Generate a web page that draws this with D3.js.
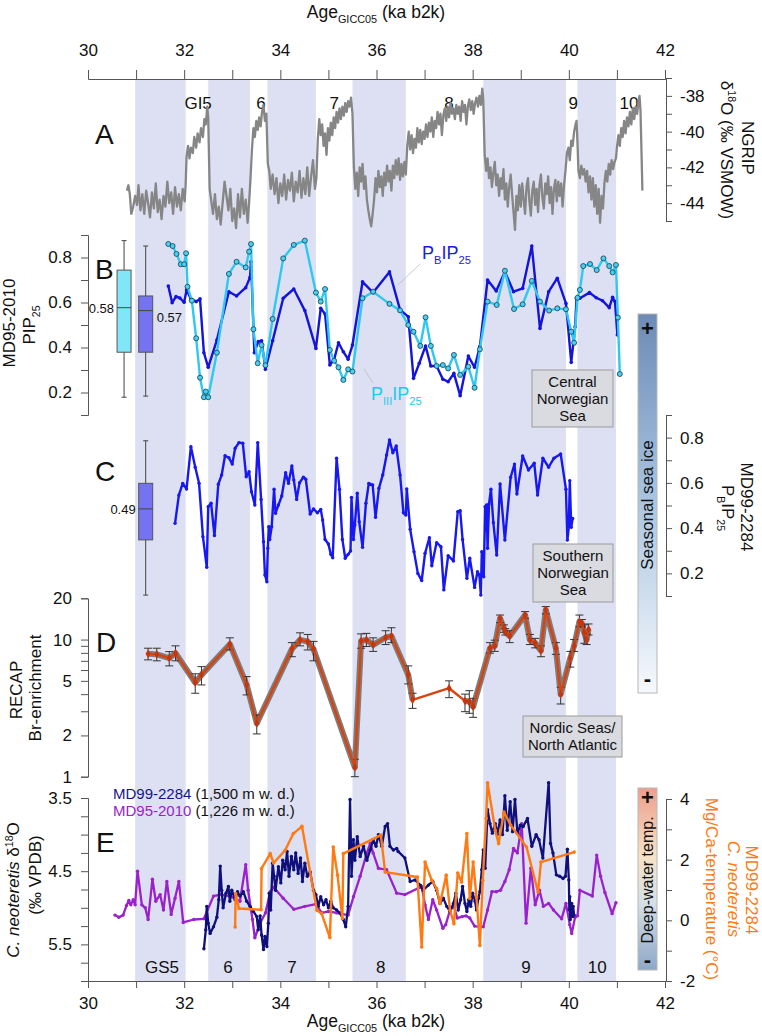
<!DOCTYPE html>
<html><head><meta charset="utf-8">
<script src="https://cdn.jsdelivr.net/npm/d3@7"></script>
<style>body{margin:0;background:#fff} svg text{font-family:"Liberation Sans",Arial,sans-serif;fill:#111}</style>
</head><body><svg id="c" width="762" height="1036"></svg>
<script>
// ---------------- DATA ----------------
const bands = [[30.98,32.03],[32.50,33.37],[33.73,34.74],[35.50,36.61],[38.22,39.94],[40.18,40.98]];
const topLabels = [[32.29,"GI5"],[33.60,"6"],[35.12,"7"],[37.51,"8"],[40.09,"9"],[41.25,"10"]];
const bottomLabels = [[31.54,"GS5"],[32.91,"6"],[34.24,"7"],[36.09,"8"],[39.11,"9"],[40.59,"10"]];
const xTicks = [30,31,32,33,34,35,36,37,38,39,40,41,42];
const xLabels = [30,32,34,36,38,40,42];

const ngrip = [[30.81,-43.3],[30.84,-43.0],[30.87,-43.5],[30.90,-44.6],[30.94,-44.2],[30.98,-43.6],[31.02,-44.1],[31.05,-43.0],[31.09,-44.4],[31.13,-43.5],[31.17,-44.6],[31.21,-43.3],[31.25,-44.0],[31.29,-44.8],[31.33,-43.4],[31.37,-44.3],[31.41,-42.9],[31.45,-44.5],[31.49,-43.8],[31.53,-44.9],[31.57,-43.6],[31.61,-44.2],[31.65,-42.8],[31.69,-44.0],[31.73,-43.4],[31.77,-44.6],[31.81,-43.1],[31.85,-44.2],[31.89,-43.5],[31.93,-44.4],[31.97,-43.2],[32.01,-43.9],[32.03,-43.0],
[32.05,-41.4],[32.08,-40.8],[32.11,-41.5],[32.14,-40.9],[32.18,-41.2],[32.21,-40.3],[32.25,-40.9],[32.28,-40.1],[32.32,-40.6],[32.35,-39.8],[32.39,-40.3],[32.42,-39.3],[32.45,-39.6],[32.48,-38.6],[32.50,-39.2],
[32.53,-43.2],[32.56,-43.8],[32.60,-44.6],[32.64,-43.5],[32.68,-44.9],[32.72,-44.2],[32.76,-45.2],[32.80,-44.0],[32.84,-42.8],[32.88,-43.6],[32.92,-44.4],[32.96,-43.2],[33.00,-45.0],[33.04,-44.3],[33.08,-45.4],[33.12,-43.5],[33.16,-44.8],[33.20,-43.2],[33.24,-44.6],[33.28,-43.8],[33.32,-45.1],[33.35,-44.0],
[33.38,-42.6],[33.41,-41.0],[33.44,-39.8],[33.47,-40.3],[33.50,-39.4],[33.53,-39.9],[33.56,-39.2],[33.59,-39.7],[33.62,-38.9],[33.65,-38.5],[33.68,-39.4],[33.71,-39.0],[33.74,-41.8],
[33.77,-42.2],[33.80,-43.2],[33.84,-42.4],[33.88,-43.5],[33.92,-42.6],[33.96,-44.0],[34.00,-42.9],[34.04,-43.6],[34.08,-42.4],[34.12,-43.8],[34.16,-42.7],[34.20,-43.3],[34.24,-42.3],[34.28,-43.9],[34.32,-42.8],[34.36,-43.4],[34.40,-42.2],[34.44,-43.7],[34.48,-42.6],[34.52,-43.5],[34.56,-42.0],[34.60,-43.6],[34.64,-42.5],[34.68,-41.6],[34.72,-43.2],[34.75,-42.6],
[34.78,-40.4],[34.81,-39.3],[34.84,-40.2],[34.87,-39.6],[34.90,-40.8],[34.93,-40.1],[34.96,-41.3],[34.99,-39.8],[35.02,-40.5],[35.05,-39.5],[35.08,-40.2],[35.11,-39.2],[35.14,-39.8],[35.17,-38.9],[35.20,-39.5],[35.23,-38.7],[35.26,-39.3],[35.29,-38.6],[35.32,-39.1],[35.35,-38.4],[35.38,-38.9],[35.41,-38.3],[35.44,-38.6],[35.47,-38.1],[35.50,-39.0],
[35.53,-42.0],[35.56,-43.2],[35.59,-42.3],[35.62,-43.6],[35.65,-42.0],[35.68,-42.8],[35.71,-41.8],[35.74,-43.2],[35.77,-42.5],[35.80,-43.8],[35.83,-44.4],[35.86,-44.9],[35.89,-45.3],[35.92,-44.6],[35.95,-43.8],[35.98,-42.6],[36.01,-43.4],[36.04,-42.2],[36.07,-43.1],[36.10,-42.5],[36.13,-43.6],[36.16,-42.3],[36.19,-43.0],[36.22,-41.9],[36.25,-42.8],[36.28,-42.2],[36.31,-43.3],[36.34,-41.9],[36.37,-42.6],[36.40,-41.6],[36.43,-42.4],[36.46,-41.5],[36.49,-42.7],[36.52,-41.8],[36.55,-42.5],[36.58,-41.7],[36.61,-42.4],
[36.64,-40.8],[36.67,-40.0],[36.70,-41.0],[36.73,-40.2],[36.76,-41.2],[36.79,-40.4],[36.82,-40.9],[36.85,-39.8],[36.88,-40.6],[36.91,-39.9],[36.94,-40.7],[36.97,-40.0],[37.00,-40.4],[37.03,-39.6],[37.06,-40.3],[37.09,-39.5],[37.12,-40.0],[37.15,-39.2],[37.18,-40.3],[37.21,-39.4],[37.24,-39.8],[37.27,-38.9],[37.30,-39.6],[37.33,-39.0],[37.36,-40.2],[37.39,-39.1],[37.42,-38.7],[37.45,-39.4],[37.48,-38.6],[37.51,-39.2],[37.54,-38.4],[37.57,-39.0],[37.60,-38.7],[37.63,-39.3],[37.66,-38.5],[37.69,-39.0],[37.72,-38.6],[37.75,-39.4],[37.78,-38.3],[37.81,-38.9],[37.84,-38.5],[37.87,-39.6],[37.90,-38.6],[37.93,-38.2],[37.96,-38.8],[37.99,-38.3],[38.02,-39.0],[38.05,-38.4],[38.08,-38.1],[38.11,-38.6],[38.14,-38.0],[38.17,-38.5],[38.20,-37.6],[38.22,-38.2],
[38.25,-41.3],[38.28,-42.2],[38.31,-41.5],[38.34,-42.6],[38.37,-42.0],[38.40,-43.1],[38.43,-42.3],[38.46,-41.7],[38.49,-43.0],[38.52,-42.4],[38.55,-43.6],[38.58,-42.6],[38.61,-43.2],[38.64,-42.1],[38.67,-43.8],[38.70,-42.9],[38.73,-44.2],[38.76,-43.1],[38.79,-42.4],[38.82,-43.5],[38.85,-44.5],[38.88,-45.5],[38.91,-43.6],[38.94,-44.4],[38.97,-43.0],[39.00,-44.2],[39.03,-42.9],[39.06,-43.8],[39.09,-44.6],[39.12,-43.1],[39.15,-42.6],[39.18,-43.9],[39.21,-44.7],[39.24,-43.3],[39.27,-42.8],[39.30,-44.1],[39.33,-43.2],[39.36,-44.5],[39.39,-43.0],[39.42,-42.4],[39.45,-43.7],[39.48,-44.3],[39.51,-42.9],[39.54,-43.5],[39.57,-42.5],[39.60,-44.0],[39.63,-43.1],[39.66,-44.6],[39.69,-43.2],[39.72,-42.7],[39.75,-43.9],[39.78,-42.8],[39.81,-43.6],[39.84,-42.9],[39.87,-44.2],[39.90,-43.0],[39.93,-42.2],
[39.96,-41.2],[39.99,-40.9],[40.02,-41.6],[40.05,-40.5],[40.08,-40.8],[40.11,-40.0],[40.14,-39.6],[40.16,-39.4],[40.18,-40.6],
[40.20,-42.2],[40.23,-42.6],[40.26,-41.9],[40.29,-42.4],[40.32,-42.1],[40.35,-42.8],[40.38,-42.2],[40.41,-43.4],[40.44,-42.5],[40.47,-43.8],[40.50,-42.6],[40.53,-44.2],[40.56,-43.0],[40.59,-44.6],[40.62,-43.2],[40.65,-45.1],[40.68,-43.6],[40.71,-44.3],[40.74,-42.9],[40.77,-42.2],[40.80,-42.8],[40.83,-41.8],[40.86,-42.4],[40.89,-41.6],[40.92,-42.1],[40.95,-41.7],[40.98,-41.5],
[41.00,-40.9],[41.03,-40.2],[41.06,-40.8],[41.09,-39.8],[41.12,-40.3],[41.15,-39.4],[41.18,-40.1],[41.21,-39.2],[41.24,-39.7],[41.27,-38.9],[41.30,-39.6],[41.33,-38.7],[41.36,-39.3],[41.39,-38.6],[41.42,-39.0],[41.45,-38.3],[41.47,-38.0],[41.49,-38.8],[41.51,-41.0],[41.53,-43.3]];

const pbip25B = [[31.67,0.673],[31.75,0.599],[31.83,0.626],[31.91,0.62],[32.00,0.601],[32.05,0.656],[32.14,0.616],[32.25,0.604],[32.33,0.616],[32.41,0.377],[32.50,0.312],[32.68,0.433],[32.93,0.648],[33.09,0.629],[33.28,0.666],[33.37,0.712],[33.39,0.781],[33.46,0.377],[33.54,0.426],[33.61,0.43],[33.69,0.303],[33.84,0.43],[34.06,0.619],[34.28,0.66],[34.51,0.564],[34.74,0.396],[34.84,0.574],[34.93,0.549],[35.03,0.322],[35.12,0.348],[35.21,0.421],[35.31,0.381],[35.41,0.348],[35.50,0.411],[35.71,0.692],[35.93,0.644],[36.27,0.736],[36.49,0.567],[36.66,0.537],[36.77,0.263],[36.89,0.33],[37.02,0.407],[37.13,0.318],[37.25,0.318],[37.38,0.259],[37.49,0.248],[37.61,0.285],[37.74,0.186],[37.91,0.362],[38.04,0.312],[38.15,0.404],[38.31,0.70],[38.49,0.651],[38.67,0.737],[38.85,0.648],[39.04,0.663],[39.23,0.851],[39.40,0.485],[39.58,0.648],[39.76,0.708],[39.94,0.596],[40.05,0.334],[40.13,0.492],[40.16,0.619],[40.23,0.619],[40.43,0.644],[40.57,0.621],[40.70,0.608],[40.84,0.577],[40.91,0.623],[40.96,0.604],[41.01,0.456]];

const piiiip25B = [[31.67,0.86],[31.76,0.851],[31.84,0.816],[31.93,0.77],[32.00,0.77],[32.04,0.819],[32.07,0.67],[32.16,0.608],[32.25,0.441],[32.33,0.266],[32.41,0.179],[32.45,0.204],[32.50,0.179],[32.68,0.377],[32.93,0.727],[33.09,0.781],[33.28,0.756],[33.35,0.826],[33.39,0.86],[33.44,0.481],[33.53,0.33],[33.61,0.411],[33.69,0.321],[33.84,0.527],[34.06,0.796],[34.28,0.856],[34.51,0.875],[34.74,0.644],[34.84,0.604],[34.93,0.66],[35.03,0.389],[35.12,0.341],[35.21,0.312],[35.31,0.256],[35.41,0.303],[35.50,0.293],[35.71,0.619],[35.93,0.648],[36.27,0.594],[36.49,0.565],[36.66,0.50],[36.77,0.47],[36.91,0.407],[37.02,0.534],[37.13,0.407],[37.25,0.318],[37.38,0.322],[37.49,0.307],[37.61,0.367],[37.74,0.278],[37.91,0.315],[38.04,0.221],[38.15,0.392],[38.31,0.604],[38.50,0.589],[38.67,0.741],[38.86,0.571],[39.04,0.592],[39.23,0.696],[39.40,0.604],[39.59,0.564],[39.76,0.574],[39.94,0.57],[40.05,0.47],[40.11,0.421],[40.18,0.621],[40.23,0.656],[40.30,0.762],[40.44,0.771],[40.58,0.744],[40.72,0.796],[40.84,0.762],[40.91,0.734],[40.98,0.767],[41.02,0.533],[41.06,0.282]];

const pbip25C = [[31.81,0.421],[31.89,0.546],[31.97,0.598],[32.05,0.573],[32.14,0.76],[32.23,0.669],[32.31,0.598],[32.39,0.362],[32.47,0.227],[32.50,0.495],[32.56,0.51],[32.63,0.367],[32.71,0.594],[32.78,0.635],[32.85,0.72],[32.93,0.711],[33.00,0.683],[33.06,0.753],[33.14,0.778],[33.22,0.775],[33.29,0.627],[33.35,0.649],[33.40,0.561],[33.47,0.502],[33.53,0.778],[33.60,0.527],[33.65,0.34],[33.68,0.193],[33.72,0.163],[33.74,0.311],[33.76,0.406],[33.78,0.35],[33.82,0.406],[33.87,0.572],[33.90,0.466],[33.96,0.502],[34.03,0.542],[34.11,0.645],[34.17,0.598],[34.24,0.675],[34.28,0.613],[34.34,0.527],[34.40,0.601],[34.48,0.625],[34.53,0.616],[34.62,0.462],[34.69,0.485],[34.77,0.468],[34.84,0.483],[34.88,0.436],[34.93,0.35],[35.00,0.33],[35.05,0.284],[35.09,0.269],[35.17,0.709],[35.23,0.572],[35.29,0.35],[35.35,0.267],[35.41,0.284],[35.46,0.299],[35.48,0.536],[35.52,0.35],[35.55,0.414],[35.60,0.554],[35.64,0.428],[35.71,0.315],[35.78,0.51],[35.84,0.598],[35.92,0.591],[35.98,0.448],[36.05,0.576],[36.13,0.635],[36.21,0.723],[36.27,0.79],[36.34,0.733],[36.41,0.763],[36.49,0.635],[36.56,0.468],[36.61,0.458],[36.63,0.573],[36.70,0.395],[36.78,0.296],[36.86,0.20],[36.94,0.168],[37.01,0.289],[37.10,0.358],[37.15,0.234],[37.25,0.336],[37.34,0.318],[37.40,0.127],[37.49,0.278],[37.60,0.255],[37.69,0.473],[37.74,0.477],[37.79,0.35],[37.88,0.178],[37.94,0.267],[38.04,0.138],[38.10,0.207],[38.14,0.193],[38.17,0.104],[38.19,0.296],[38.23,0.185],[38.26,0.495],[38.28,0.392],[38.29,0.502],[38.31,0.311],[38.34,0.507],[38.38,0.572],[38.43,0.424],[38.50,0.281],[38.57,0.595],[38.67,0.347],[38.79,0.625],[38.87,0.683],[38.92,0.551],[39.04,0.719],[39.16,0.657],[39.28,0.687],[39.35,0.546],[39.46,0.709],[39.58,0.669],[39.69,0.709],[39.83,0.728],[39.94,0.572],[39.97,0.347],[40.00,0.406],[40.02,0.61],[40.05,0.404],[40.08,0.443]];

// boxplots: [ageCenter, min, q1, median, q3, max]
const boxB = [[30.75,0.179,0.379,0.577,0.744,0.875],[31.20,0.184,0.379,0.564,0.629,0.851]];
const boxBLabels = ["0.58","0.57"];
const boxC = [[31.20,0.104,0.348,0.485,0.598,0.786]];
const boxCLabels = ["0.49"];

// RECAP: [age, value, low, high]
const recap = [[31.25,7.87,7.11,8.65],[31.43,7.8,7.0,8.65],[31.69,7.33,6.43,8.17],[31.82,7.95,7.0,9.0],[32.23,4.86,4.06,5.63],[32.36,5.53,4.67,6.35],[32.95,9.25,8.4,10.3],[33.30,4.67,3.95,5.37],[33.51,2.45,2.05,2.82],[34.24,8.52,7.5,9.5],[34.41,9.96,9.0,11.2],[34.57,9.67,8.4,10.9],[34.69,8.52,7.0,9.7],[35.55,1.17,1.0,1.34],[35.68,9.78,8.65,11.0],[35.79,9.96,8.9,11.1],[35.93,9.14,8.2,10.3],[36.19,10.35,9.2,11.6],[36.31,10.6,9.5,12.2],[36.66,5.53,4.75,6.43],[36.75,3.63,3.15,4.06],[37.51,4.42,3.77,5.0],[37.84,3.57,2.98,4.0],[37.93,3.53,2.9,4.24],[38.01,3.24,2.71,3.73],[38.36,8.66,7.96,9.5],[38.46,9.0,8.2,9.9],[38.57,14.3,13.3,15.1],[38.65,12.1,11.3,12.8],[38.68,11.4,10.8,12.0],[38.77,10.6,9.5,11.6],[39.09,15.1,14.3,16.0],[39.19,9.96,9.2,10.9],[39.30,9.43,8.7,10.2],[39.42,8.3,7.5,9.0],[39.52,16.5,15.4,17.4],[39.73,8.66,7.8,9.5],[39.83,3.99,3.39,4.49],[40.03,7.33,6.3,8.2],[40.11,9.0,8.2,10.0],[40.22,13.5,12.4,15.1],[40.27,13.15,12.4,14.0],[40.32,11.3,9.4,12.8],[40.37,9.96,9.2,11.0],[40.41,11.9,10.8,13.0]];
const recapNoHalo = [36.75,37.84]; // age span drawn without grey halo

const d18O_2284 = [[32.41,5.56],[32.45,5.30],[32.47,4.98],[32.50,5.21],[32.54,5.35],[32.61,5.26],[32.68,5.13],[32.72,4.89],[32.75,4.43],[32.78,4.76],[32.81,5.00],[32.87,4.80],[32.92,4.71],[32.95,4.91],[32.99,4.76],[33.06,4.89],[33.11,4.78],[33.16,4.84],[33.23,4.78],[33.30,4.91],[33.37,4.98],[33.44,5.05],[33.51,5.12],[33.54,5.30],[33.58,5.11],[33.61,5.37],[33.65,5.57],[33.68,5.39],[33.72,5.53],[33.75,5.21],[33.77,4.80],[33.80,5.03],[33.84,4.39],[33.87,4.57],[33.90,4.76],[33.96,4.44],[34.01,4.66],[34.05,4.35],[34.10,4.48],[34.14,4.23],[34.18,4.57],[34.23,4.30],[34.28,4.48],[34.32,4.25],[34.37,4.53],[34.42,4.32],[34.46,4.64],[34.51,4.39],[34.56,4.57],[34.62,4.51],[34.69,4.76],[34.74,4.82],[34.79,4.98],[34.84,4.85],[34.90,4.96],[34.95,4.89],[35.00,5.00],[35.05,4.91],[35.10,5.00],[35.17,5.03],[35.24,5.07],[35.31,5.16],[35.36,5.26],[35.41,4.98],[35.45,3.52],[35.48,4.57],[35.52,4.07],[35.55,4.35],[35.60,4.03],[35.66,4.30],[35.73,4.16],[35.80,4.35],[35.87,4.21],[35.93,4.07],[35.99,4.16],[36.04,4.00],[36.11,4.16],[36.18,3.89],[36.23,3.85],[36.28,4.16],[36.35,4.21],[36.42,4.19],[36.45,4.23],[36.59,4.32],[36.70,4.64],[36.80,4.62],[36.91,4.69],[36.97,4.76],[37.08,4.69],[37.17,4.64],[37.25,4.76],[37.32,4.94],[37.39,4.87],[37.46,4.98],[37.53,5.05],[37.60,4.94],[37.65,4.80],[37.70,5.03],[37.75,4.89],[37.79,4.71],[37.84,4.94],[37.88,5.05],[37.92,4.89],[37.96,4.98],[38.00,4.80],[38.05,4.91],[38.08,5.03],[38.12,4.87],[38.15,4.78],[38.19,4.48],[38.22,4.21],[38.26,4.46],[38.31,3.66],[38.36,3.85],[38.41,3.98],[38.47,3.85],[38.51,4.00],[38.57,3.80],[38.62,4.00],[38.67,3.47],[38.72,3.94],[38.78,3.55],[38.83,3.96],[38.88,3.52],[38.93,3.98],[38.99,3.87],[39.05,3.89],[39.14,3.78],[39.23,4.16],[39.32,4.00],[39.38,4.07],[39.46,4.32],[39.58,3.29],[39.62,4.12],[39.67,4.25],[39.74,4.55],[39.81,4.57],[39.88,4.60],[39.93,4.57],[39.97,4.20],[40.00,4.62],[40.01,5.03],[40.02,4.85],[40.03,5.16],[40.06,4.94],[40.08,5.12],[40.09,4.98],[40.11,5.10]];

const d18O_2010 = [[30.56,5.10],[30.64,5.13],[30.73,5.10],[30.80,4.97],[30.85,4.90],[30.89,4.96],[30.94,4.89],[30.98,4.96],[31.03,4.50],[31.12,4.96],[31.19,5.00],[31.25,5.16],[31.34,4.61],[31.41,4.91],[31.50,4.82],[31.57,5.03],[31.64,4.64],[31.73,5.09],[31.81,4.87],[31.89,4.64],[31.98,5.20],[32.20,5.16],[32.41,5.15],[32.61,4.84],[32.75,4.82],[32.95,4.84],[33.16,4.91],[33.28,4.41],[33.33,4.76],[33.42,5.16],[33.47,5.41],[33.58,5.21],[33.69,5.07],[33.79,4.78],[33.86,4.72],[34.06,4.87],[34.28,5.02],[34.51,4.98],[34.74,4.95],[34.86,5.07],[35.00,5.05],[35.17,5.07],[35.41,5.10],[35.52,4.85],[35.66,4.57],[35.80,4.25],[35.87,4.12],[35.93,4.25],[36.04,4.46],[36.21,4.48],[36.42,4.80],[36.59,4.82],[36.94,4.71],[37.01,4.96],[37.08,5.16],[37.17,4.89],[37.25,5.03],[37.38,5.28],[37.44,5.23],[37.53,5.03],[37.61,4.98],[37.68,5.14],[37.78,5.12],[37.86,5.11],[37.94,5.14],[38.04,5.25],[38.14,5.26],[38.22,5.26],[38.31,5.03],[38.40,4.78],[38.49,4.78],[38.58,4.76],[38.67,4.64],[38.76,4.48],[38.85,4.19],[38.93,4.25],[39.02,3.85],[39.11,5.21],[39.21,4.46],[39.30,4.96],[39.39,4.76],[39.47,4.98],[39.58,4.94],[39.68,5.03],[39.85,5.15],[39.94,4.94],[40.02,5.23],[40.06,5.35],[40.13,5.13],[40.18,5.11],[40.23,4.76],[40.49,4.84],[40.58,4.28],[40.66,4.57],[40.75,4.79],[40.90,5.08],[40.98,4.93]];

const mgca_2284 = [[33.06,-0.22],[33.07,0.88],[33.14,0.39],[33.60,0.35],[33.61,1.71],[33.79,2.20],[33.86,1.89],[34.10,2.31],[34.27,2.86],[34.45,3.10],[34.76,0.33],[34.86,0.22],[35.03,-0.57],[35.10,2.42],[35.19,1.49],[35.29,0.06],[35.31,2.20],[36.09,2.81],[36.18,1.59],[36.85,1.43],[36.94,-0.88],[37.01,1.92],[37.15,1.32],[37.25,1.05],[37.32,0.55],[37.45,1.49],[37.53,0.33],[37.61,-0.11],[37.69,1.56],[37.77,1.26],[37.88,2.86],[37.94,0.72],[38.01,1.92],[38.08,0.77],[38.15,-0.83],[38.21,1.32],[38.28,3.36],[38.31,4.53],[38.47,2.97],[38.54,2.53],[38.65,3.57],[38.79,3.14],[39.12,2.42],[39.36,0.93],[39.42,1.92],[40.11,2.25]];

// ---------------- SCALES ----------------
const svg = d3.select("#c");
const x = d3.scaleLinear([30,42],[88,665]);
const yA = d3.scaleLinear([-45,-37],[221,78]);
const yB = d3.scaleLinear([0.1,0.9],[415,235]);
const yC = d3.scaleLinear([0.1,0.9],[596,415]);
const yD = d3.scaleLog([1,20],[776.7,598.3]);
const yE = d3.scaleLinear([3.5,6.0],[798,981]);
const yE2 = d3.scaleLinear([-2,4],[981,799]);
const FONT = '"Liberation Sans",Arial,sans-serif';

// helpers
function rich(t, parts, fs){
  let shift = 0;
  parts.forEach(p=>{
    const [s,k,col] = p;
    const ts = t.append("tspan").text(s);
    let target = 0;
    if(k==="sub"){target = fs*0.3; ts.attr("font-size",fs*0.62);}
    else if(k==="sup"){target = -fs*0.38; ts.attr("font-size",fs*0.62);}
    if(k==="i") ts.attr("font-style","italic");
    const dy = target-shift; if(dy) ts.attr("dy",dy); shift = target;
    if(col) ts.style("fill",col);
  });
  return t;
}
function vtext(cx, cy, ang, parts, fs, col){
  const t = svg.append("text").attr("transform",`translate(${cx},${cy}) rotate(${ang})`)
    .attr("text-anchor","middle").attr("y",fs*0.35).attr("font-size",fs);
  if(col) t.style("fill",col);
  return rich(t, parts, fs);
}
function htext(px, py, parts, fs, anchor, col){
  const t = svg.append("text").attr("x",px).attr("y",py).attr("font-size",fs).attr("text-anchor",anchor||"start");
  if(col) t.style("fill",col);
  return rich(t, parts, fs);
}
const isIn = (arr,d)=>arr.some(v=>Math.abs(v-d)<1e-9);
function drawAxis(gen, pos, horiz, ticks, labels, size, pad){
  gen.tickValues(ticks).tickFormat(d=>isIn(labels,d)?String(d):"").tickSizeOuter(0).tickSize(size).tickPadding(pad);
  const g = svg.append("g").attr("transform", horiz?`translate(0,${pos})`:`translate(${pos},0)`).call(gen);
  g.attr("font-size",17).attr("font-family",FONT);
  g.select(".domain").attr("stroke","#555");
  g.selectAll(".tick line").attr("stroke","#555");
  g.selectAll(".tick text").style("fill","#111");
  return g;
}

// ---------------- BACKGROUND BANDS ----------------
svg.append("g").selectAll("rect").data(bands).join("rect")
  .attr("x",d=>x(d[0])).attr("width",d=>x(d[1])-x(d[0]))
  .attr("y",80).attr("height",901).attr("fill","#dde0f2");

svg.append("g").selectAll("text").data(topLabels).join("text")
  .attr("x",d=>x(d[0])).attr("y",109).attr("text-anchor","middle").attr("font-size",17).text(d=>d[1]);
svg.append("g").selectAll("text").data(bottomLabels).join("text")
  .attr("x",d=>x(d[0])).attr("y",973).attr("text-anchor","middle").attr("font-size",17).text(d=>d[1]);

// ---------------- X AXES ----------------
drawAxis(d3.axisTop(x), 79, true, xTicks, xLabels, 9, 14);
drawAxis(d3.axisBottom(x), 981, true, xTicks, xLabels, 7, 9);
htext(376, 18, [["Age"],["GICC05","sub"],[" (ka b2k)"]], 17.5, "middle");
htext(376, 1027, [["Age"],["GICC05","sub"],[" (ka b2k)"]], 17.5, "middle");

// ---------------- PANEL A ----------------
drawAxis(d3.axisRight(yA), 666, false, d3.range(-45,-36,1), [-44,-42,-40,-38], 6, 8);
svg.append("path").datum(ngrip).attr("fill","none").attr("stroke","#868686").attr("stroke-width",2.3)
  .attr("stroke-linejoin","round").attr("d", d3.line().x(d=>x(d[0])).y(d=>yA(d[1])));
vtext(748, 148, 90, [["NGRIP"]], 17);
vtext(727, 150, 90, [["δ"],["18","sup"],["O (‰ VSMOW)"]], 17);
htext(95, 144, [["A"]], 28);

// ---------------- PANEL B ----------------
drawAxis(d3.axisLeft(yB), 88, false, d3.range(1,10).map(i=>i/10), [0.2,0.4,0.6,0.8], 7, 9);
vtext(9, 323, -90, [["MD95-2010"]], 17);
vtext(29, 325, -90, [["PIP"],["25","sub"]], 17);
htext(95, 279, [["B"]], 28);

function drawBoxes(data, yS, fills){
  const bw = 14;
  data.forEach((b,i)=>{
    const cx = x(b[0]);
    const g = svg.append("g");
    g.append("line").attr("x1",cx).attr("x2",cx).attr("y1",yS(b[1])).attr("y2",yS(b[5])).attr("stroke","#444");
    [b[1],b[5]].forEach(v=>g.append("line").attr("x1",cx-2.5).attr("x2",cx+2.5).attr("y1",yS(v)).attr("y2",yS(v)).attr("stroke","#444"));
    g.append("rect").attr("x",cx-bw/2).attr("width",bw).attr("y",yS(b[4])).attr("height",yS(b[2])-yS(b[4]))
      .attr("fill",fills[i]).attr("stroke","#555");
    g.append("line").attr("x1",cx-bw/2).attr("x2",cx+bw/2).attr("y1",yS(b[3])).attr("y2",yS(b[3])).attr("stroke","#444");
  });
}
drawBoxes(boxB, yB, ["#80e6f8","#7474f2"]);
htext(x(boxB[0][0])-10, yB(boxB[0][3])+5, [[boxBLabels[0]]], 13, "end");
htext(x(boxB[1][0])+11, yB(boxB[1][3])+11, [[boxBLabels[1]]], 13, "start");

const lineB = d3.line().x(d=>x(d[0])).y(d=>yB(d[1]));
svg.append("path").datum(pbip25B).attr("fill","none").attr("stroke","#1414dc").attr("stroke-width",2.4).attr("stroke-linejoin","round").attr("d",lineB);
svg.append("g").selectAll("circle").data(pbip25B).join("circle").attr("cx",d=>x(d[0])).attr("cy",d=>yB(d[1])).attr("r",1.8).attr("fill","#1414dc");
svg.append("path").datum(piiiip25B).attr("fill","none").attr("stroke","#2ec8f0").attr("stroke-width",2.4).attr("stroke-linejoin","round").attr("d",lineB);
svg.append("g").selectAll("circle").data(piiiip25B).join("circle").attr("cx",d=>x(d[0])).attr("cy",d=>yB(d[1])).attr("r",2.5).attr("fill","#45d2f2").attr("stroke","#1b3a4c").attr("stroke-width",0.8);

svg.append("line").attr("x1",420).attr("y1",264).attr("x2",398).attr("y2",285).attr("stroke","#bbb").attr("stroke-width",0.8);
htext(422, 259, [["P"],["B","sub"],["IP"],["25","sub"]], 18, "start", "#1a1ae6");
svg.append("line").attr("x1",364).attr("y1",369).attr("x2",373).attr("y2",383).attr("stroke","#bbb").attr("stroke-width",0.8);
htext(371, 400, [["P"],["III","sub"],["IP"],["25","sub"]], 18, "start", "#26c6f0");

function regionBox(x0,y0,w,h,lines){
  svg.append("rect").attr("x",x0).attr("y",y0).attr("width",w).attr("height",h).attr("fill","#dadae1").attr("stroke","#9b9b9b").attr("stroke-width",1);
  const lh = 16.8, n = lines.length;
  lines.forEach((l,i)=>{
    svg.append("text").attr("x",x0+w/2).attr("y",y0+h/2+(i-(n-1)/2)*lh+5.2).attr("text-anchor","middle").attr("font-size",15).text(l);
  });
}
regionBox(532,370,81,57,["Central","Norwegian","Sea"]);

// ---------------- PANEL C ----------------
drawAxis(d3.axisRight(yC), 666, false, d3.range(1,10).map(i=>i/10), [0.2,0.4,0.6,0.8], 6, 8);
vtext(747, 507, 90, [["MD99-2284"]], 17);
vtext(728, 508, 90, [["P"],["B","sub"],["IP"],["25","sub"]], 17);
htext(95, 481, [["C"]], 28);
drawBoxes(boxC, yC, ["#7474f2"]);
htext(x(boxC[0][0])-10, yC(boxC[0][3])+5, [[boxCLabels[0]]], 13, "end");
const lineC = d3.line().x(d=>x(d[0])).y(d=>yC(d[1]));
svg.append("path").datum(pbip25C).attr("fill","none").attr("stroke","#1818f0").attr("stroke-width",2.4).attr("stroke-linejoin","round").attr("d",lineC);
svg.append("g").selectAll("circle").data(pbip25C).join("circle").attr("cx",d=>x(d[0])).attr("cy",d=>yC(d[1])).attr("r",1.7).attr("fill","#1818f0");
regionBox(533,544,80,58,["Southern","Norwegian","Sea"]);

// Seasonal sea ice bar
const defs = svg.append("defs");
const g1 = defs.append("linearGradient").attr("id","gIce").attr("x1",0).attr("y1",0).attr("x2",0).attr("y2",1);
g1.append("stop").attr("offset","0%").attr("stop-color","#6d8bb5");
g1.append("stop").attr("offset","45%").attr("stop-color","#a3c0de");
g1.append("stop").attr("offset","100%").attr("stop-color","#f6f9fd");
svg.append("rect").attr("x",638).attr("y",314).attr("width",19).attr("height",379).attr("fill","url(#gIce)").attr("stroke","#b8b8b8");
svg.append("text").attr("x",647.5).attr("y",336).attr("text-anchor","middle").attr("font-size",22).attr("font-weight","bold").text("+");
svg.append("text").attr("x",647.5).attr("y",686).attr("text-anchor","middle").attr("font-size",22).attr("font-weight","bold").text("-");
vtext(647, 505, -90, [["Seasonal sea ice"]], 17);

// ---------------- PANEL D ----------------
drawAxis(d3.axisLeft(yD), 88, false, [1,2,3,4,5,6,7,8,9,10,20], [1,2,5,10,20], 7, 9);
vtext(16, 690, -90, [["RECAP"]], 17);
vtext(35, 688, -90, [["Br-enrichment"]], 17);
htext(96, 652, [["D"]], 28);
const lineD = d3.line().x(d=>x(d[0])).y(d=>yD(d[1]));
const haloA = recap.filter(d=>d[0]<=recapNoHalo[0]+1e-9);
const haloB = recap.filter(d=>d[0]>=recapNoHalo[1]-1e-9);
[haloA,haloB].forEach(h=>svg.append("path").datum(h).attr("fill","none").attr("stroke","#7d7d7d").attr("stroke-width",6).attr("stroke-linejoin","round").attr("d",lineD));
const eg = svg.append("g").attr("stroke","#333").attr("stroke-width",1);
recap.forEach(d=>{
  const cx = x(d[0]);
  eg.append("line").attr("x1",cx).attr("x2",cx).attr("y1",yD(d[2])).attr("y2",yD(d[3]));
  [d[2],d[3]].forEach(v=>eg.append("line").attr("x1",cx-4).attr("x2",cx+4).attr("y1",yD(v)).attr("y2",yD(v)));
});
svg.append("path").datum(recap).attr("fill","none").attr("stroke","#d9430f").attr("stroke-width",2.4).attr("stroke-linejoin","round").attr("d",lineD);
svg.append("g").selectAll("path").data(recap).join("path")
  .attr("transform",d=>`translate(${x(d[0])},${yD(d[1])})`)
  .attr("d",d3.symbol(d3.symbolDiamond,22)).attr("fill","#c8350c");
regionBox(523,716,99,41,["Nordic Seas/","North Atlantic"]);

// ---------------- PANEL E ----------------
drawAxis(d3.axisLeft(yE), 88, false, d3.range(0,11).map(i=>3.5+i*0.25), [3.5,4.5,5.5], 7, 9);
drawAxis(d3.axisRight(yE2), 666, false, [-2,-1,0,1,2,3,4], [-2,0,2,4], 6, 8);
vtext(13, 890, -90, [["C. neoteretis","i"],[" δ"],["18","sup"],["O"]], 17);
vtext(35, 875, -90, [["(‰ VPDB)"]], 17);
htext(96, 852, [["E"]], 28);
htext(113, 799, [["MD99-2284",null,"#141488"],[" (1,500 m w. d.)"]], 15);
htext(113, 816, [["MD95-2010",null,"#9a22cc"],[" (1,226 m w. d.)"]], 15);

const lineE = d3.line().x(d=>x(d[0])).y(d=>yE(d[1]));
const lineE2 = d3.line().x(d=>x(d[0])).y(d=>yE2(d[1]));
function series(data, gen, yS, col, w, r){
  svg.append("path").datum(data).attr("fill","none").attr("stroke",col).attr("stroke-width",w).attr("stroke-linejoin","round").attr("d",gen);
  svg.append("g").selectAll("circle").data(data).join("circle").attr("cx",d=>x(d[0])).attr("cy",d=>yS(d[1])).attr("r",r).attr("fill",col);
}
series(d18O_2010, lineE, yE, "#9a22cc", 2.3, 1.7);
series(d18O_2284, lineE, yE, "#10107c", 2.3, 1.7);
series(mgca_2284, lineE2, yE2, "#ff7a12", 2.4, 1.8);

// Deep-water temp bar
const g2 = defs.append("linearGradient").attr("id","gTemp").attr("x1",0).attr("y1",0).attr("x2",0).attr("y2",1);
g2.append("stop").attr("offset","0%").attr("stop-color","#ee9e8c");
g2.append("stop").attr("offset","38%").attr("stop-color","#f6e2c6");
g2.append("stop").attr("offset","62%").attr("stop-color","#d6e0e6");
g2.append("stop").attr("offset","100%").attr("stop-color","#8ea8c8");
svg.append("rect").attr("x",638).attr("y",788).attr("width",19).attr("height",182).attr("fill","url(#gTemp)").attr("stroke","#b8b8b8");
svg.append("text").attr("x",647.5).attr("y",805).attr("text-anchor","middle").attr("font-size",22).attr("font-weight","bold").text("+");
svg.append("text").attr("x",647.5).attr("y",967).attr("text-anchor","middle").attr("font-size",22).attr("font-weight","bold").text("-");
vtext(647, 880, -90, [["Deep-water temp."]], 16);

vtext(752, 890, 90, [["MD99-2284"]], 17, "#ff7a12");
vtext(734, 889, 90, [["C. neoteretis","i"]], 17, "#ff7a12");
vtext(712, 889, 90, [["Mg/Ca-temperature (°C)"]], 17, "#ff7a12");
</script></body></html>
